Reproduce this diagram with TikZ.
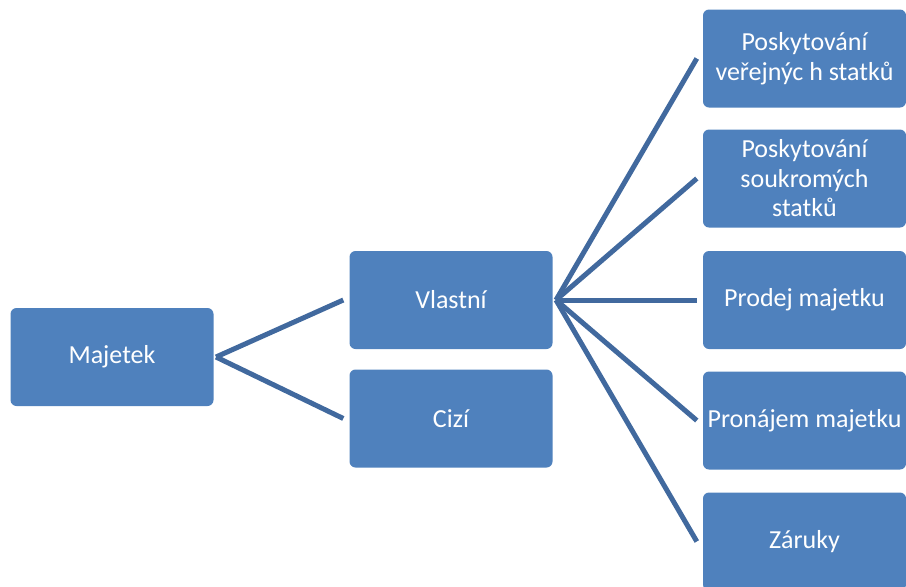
\documentclass[tikz,border=0pt]{standalone}
\usepackage{fontspec}
\setmainfont{Carlito}
\definecolor{boxblue}{HTML}{4F81BD}
\definecolor{lineblue}{HTML}{41699E}
\begin{document}
\begin{tikzpicture}[x=1pt,y=-1pt,
  box/.style={rectangle, rounded corners=6pt, fill=boxblue, text=white,
    minimum width=203pt, minimum height=98pt, inner sep=1pt, align=center,
    font=\fontsize{26}{29.5}\selectfont},
  conn/.style={draw=lineblue, line width=5pt}]
\useasboundingbox (0,0) rectangle (906,587);
\clip (0,0) rectangle (906,587);
\node[box] (maj) at (112,357) {Majetek};
\node[box] (vla) at (451,300) {Vlastní};
\node[box] (ciz) at (451,418.5) {Cizí};
\node[box] (r1) at (804.5,58.5) {Poskytování\\veřejnýc h statků};
\node[box] (r2) at (804.5,178.5) {Poskytování\\soukromých\\statků};
\node[box] (r3) at (804.5,300) {Prodej majetku};
\node[box] (r4) at (804.5,420.5) {Pronájem majetku};
\node[box] (r5) at (804.5,541.5) {Záruky};
\coordinate (a) at (216,357);
\coordinate (b) at (556,300);
\draw[conn] (a) -- ([xshift=-6pt]vla.west);
\draw[conn] (a) -- ([xshift=-6pt]ciz.west);
\foreach \n in {r1,r2,r3,r4,r5}{
  \draw[conn] (b) -- ([xshift=-6pt]\n.west);
}
\end{tikzpicture}
\end{document}
